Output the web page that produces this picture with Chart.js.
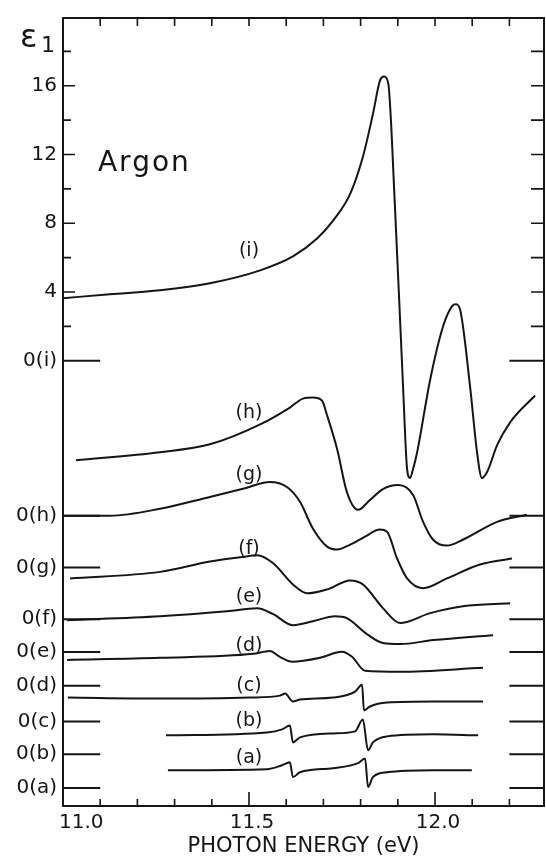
<!DOCTYPE html>
<html>
<head>
<meta charset="utf-8">
<title>Argon - epsilon 1</title>
<script src="https://cdn.jsdelivr.net/npm/chart.js@4.4.1/dist/chart.umd.min.js"></script>
<style>
    html, body { margin: 0; padding: 0; background: #fff; }
    canvas { display: block; }
</style>
</head>
<body>
<canvas id="argonChart" width="546" height="861"></canvas>
<script>
// Curve names and where each one has its zero (in units of the epsilon_1 scale of curve (i))
const curveNames = ['(i)', '(h)', '(g)', '(f)', '(e)', '(d)', '(c)', '(b)', '(a)'];
const zeroLabels = ['0(i)', '0(h)', '0(g)', '0(f)', '0(e)', '0(d)', '0(c)', '0(b)', '0(a)'];
const zeroLevels = [0, -9.02, -12.02, -15.03, -16.94, -18.90, -20.98, -22.89, -24.86];

// Tick values
const epsTicks = [2, 4, 6, 8, 10, 12, 14, 16, 18];
const epsLabelled = [16, 12, 8, 4];
const xTicks = [11.1, 11.2, 11.3, 11.4, 11.5, 11.6, 11.7, 11.8, 11.9, 12.0, 12.1, 12.2];
const xTickValues = [11.0, 11.5, 12.0];
const xTickLabels = ['11.0', '11.5', '12.0'];

// Photon energy (eV) and epsilon_1 (relative to the curve's own zero)
const energyI = [11.000, 11.126, 11.261, 11.395, 11.530, 11.618, 11.683, 11.726, 11.772, 11.806, 11.833, 11.852, 11.863, 11.874, 11.892, 11.914, 11.925, 11.933, 11.941, 11.952, 11.987, 12.022, 12.046, 12.056, 12.067, 12.094, 12.113, 12.126, 12.140, 12.167, 12.202, 12.269];
const epsI = [3.64, 3.87, 4.10, 4.51, 5.26, 6.07, 7.11, 8.15, 9.71, 11.85, 14.34, 16.30, 16.53, 16.18, 9.13, -1.45, -6.30, -6.82, -6.30, -5.32, -1.10, 2.02, 3.18, 3.29, 3.01, -1.45, -5.32, -6.82, -6.47, -4.91, -3.58, -2.02];

const energyH = [11.035, 11.261, 11.395, 11.530, 11.610, 11.645, 11.672, 11.696, 11.710, 11.737, 11.763, 11.793, 11.825, 11.860, 11.901, 11.941, 11.968, 11.995, 12.032, 12.075, 12.167, 12.247];
const epsH = [3.24, 3.70, 4.16, 5.32, 6.30, 6.82, 6.88, 6.71, 5.84, 3.87, 1.39, 0.35, 0.92, 1.56, 1.79, 1.21, -0.35, -1.39, -1.73, -1.39, -0.35, 0.06];

const energyG = [11.000, 11.126, 11.261, 11.395, 11.484, 11.556, 11.602, 11.637, 11.672, 11.710, 11.737, 11.772, 11.812, 11.852, 11.871, 11.898, 11.925, 11.968, 12.032, 12.121, 12.207];
const epsG = [3.01, 3.01, 3.41, 4.10, 4.57, 4.97, 4.68, 3.82, 2.25, 1.21, 1.04, 1.33, 1.79, 2.20, 2.08, 0.52, -0.64, -1.21, -0.64, 0.17, 0.52];

const energyF = [11.019, 11.261, 11.395, 11.484, 11.522, 11.565, 11.618, 11.656, 11.710, 11.772, 11.806, 11.860, 11.906, 11.987, 12.075, 12.202];
const epsF = [2.37, 2.75, 3.35, 3.62, 3.72, 3.25, 2.02, 1.50, 1.73, 2.25, 2.02, 0.64, -0.23, 0.35, 0.75, 0.92];

const energyE = [11.011, 11.261, 11.441, 11.522, 11.565, 11.618, 11.672, 11.731, 11.763, 11.817, 11.860, 11.906, 11.995, 12.156];
const epsE = [1.85, 2.08, 2.37, 2.54, 2.20, 1.56, 1.79, 2.08, 1.97, 1.04, 0.52, 0.46, 0.69, 0.98];

const energyD = [11.011, 11.261, 11.511, 11.556, 11.583, 11.616, 11.691, 11.750, 11.777, 11.812, 11.906, 12.129];
const epsD = [1.50, 1.62, 1.85, 2.02, 1.68, 1.39, 1.62, 1.97, 1.68, 0.87, 0.81, 1.04];

const energyC = [11.013, 11.261, 11.503, 11.583, 11.597, 11.618, 11.637, 11.726, 11.785, 11.804, 11.809, 11.825, 11.871, 11.995, 12.129];
const epsC = [1.39, 1.33, 1.39, 1.50, 1.62, 1.16, 1.27, 1.39, 1.73, 2.14, 0.64, 0.87, 1.10, 1.16, 1.16];

const energyB = [11.277, 11.548, 11.589, 11.610, 11.618, 11.637, 11.726, 11.785, 11.806, 11.820, 11.833, 11.871, 11.995, 12.116];
const epsB = [1.10, 1.27, 1.45, 1.68, 0.69, 0.98, 1.21, 1.33, 2.02, 0.23, 0.69, 1.04, 1.16, 1.10];

const energyA = [11.282, 11.548, 11.589, 11.610, 11.618, 11.637, 11.726, 11.793, 11.812, 11.820, 11.833, 11.871, 11.995, 12.099];
const epsA = [1.04, 1.10, 1.33, 1.50, 0.64, 0.92, 1.16, 1.45, 1.73, 0.06, 0.64, 0.92, 1.04, 1.04];

const energies = [energyI, energyH, energyG, energyF, energyE, energyD, energyC, energyB, energyA];
const epsValues = [epsI, epsH, epsG, epsF, epsE, epsD, epsC, epsB, epsA];

const ink = '#151515';
const fontFamily = "'DejaVu Sans', 'Liberation Sans', sans-serif";

// Build the datasets: one line per curve, shifted to its own zero
const datasets = [];
curveNames.forEach((name, k) => {
    datasets.push({
        label: name,
        data: energies[k].map((e, i) => ({ x: e, y: epsValues[k][i] + zeroLevels[k] })),
        borderColor: ink,
        borderWidth: 2,
        pointRadius: 0,
        cubicInterpolationMode: 'monotone',
        fill: false
    });
});
// Short zero marks on the left and the right frame
zeroLevels.forEach(z => {
    datasets.push({
        label: 'zero',
        data: [{ x: 11.0, y: z }, { x: 11.1, y: z }, { x: 11.6, y: null }, { x: 12.2, y: z }, { x: 12.3, y: z }],
        borderColor: ink,
        borderWidth: 2,
        pointRadius: 0,
        spanGaps: false,
        fill: false
    });
});

// Frame, inward ticks and the free text of the figure
const frameMarks = {
    id: 'frameMarks',
    afterDatasetsDraw(chart, args, opts) {
        const { ctx, chartArea: a, scales: { x, y } } = chart;
        ctx.save();
        ctx.strokeStyle = ink;
        ctx.fillStyle = ink;
        ctx.lineWidth = 2;
        ctx.strokeRect(a.left, a.top, a.right - a.left, a.bottom - a.top);

        ctx.lineWidth = 1.6;
        ctx.beginPath();
        xTicks.forEach(v => {
            const px = x.getPixelForValue(v);
            const long = xTickValues.includes(v);
            ctx.moveTo(px, a.bottom);
            ctx.lineTo(px, a.bottom - (long ? 14 : 7));
            ctx.moveTo(px, a.top);
            ctx.lineTo(px, a.top + 8);
        });
        epsTicks.forEach(v => {
            const py = y.getPixelForValue(v);
            ctx.moveTo(a.left, py);
            ctx.lineTo(a.left + (epsLabelled.includes(v) ? 12 : 8), py);
            ctx.moveTo(a.right, py);
            ctx.lineTo(a.right - 13, py);
        });
        ctx.stroke();

        // x tick labels (the first one sits just inside the left edge)
        ctx.font = '20px ' + fontFamily;
        ctx.textBaseline = 'alphabetic';
        xTickValues.forEach((v, i) => {
            const px = x.getPixelForValue(v);
            ctx.textAlign = i === 0 ? 'left' : 'center';
            ctx.fillText(xTickLabels[i], i === 0 ? px - 4 : px + 3, a.bottom + 22);
        });

        // curve labels
        ctx.font = '19px ' + fontFamily;
        ctx.textAlign = 'center';
        ctx.textBaseline = 'middle';
        curveNames.forEach((name, k) => {
            ctx.fillText(name, x.getPixelForValue(opts.labelX), y.getPixelForValue(zeroLevels[k] + opts.labelRise[k]));
        });

        // sample name
        ctx.font = '28px ' + fontFamily;
        ctx.textAlign = 'left';
        ctx.textBaseline = 'alphabetic';
        ctx.letterSpacing = '2px';
        ctx.fillText('Argon', x.getPixelForValue(opts.argonX), y.getPixelForValue(opts.argonY));
        ctx.letterSpacing = '0px';

        // epsilon_1 axis symbol
        ctx.font = '32px ' + fontFamily;
        ctx.fillText('\u03b5', 20, 47);
        ctx.font = '22px ' + fontFamily;
        ctx.fillText('1', 41, 52);
        ctx.restore();
    }
};

const yLabelFor = {};
epsLabelled.forEach(v => { yLabelFor[v] = String(v); });
zeroLevels.forEach((z, k) => { yLabelFor[z] = zeroLabels[k]; });

const ctx = document.getElementById('argonChart').getContext('2d');
const mainChart = new Chart(ctx, {
    type: 'line',
    data: { datasets: datasets },
    options: {
        responsive: false,
        animation: false,
        devicePixelRatio: 1,
        layout: { padding: { top: 13, right: 2, left: 0, bottom: 0 } },
        scales: {
            x: {
                type: 'linear',
                min: 11.0,
                max: 12.293,
                grid: { display: false, drawTicks: false },
                border: { display: false },
                ticks: { display: false },
                title: {
                    display: true,
                    text: 'PHOTON ENERGY (eV)',
                    color: ink,
                    font: { family: fontFamily, size: 21 },
                    padding: { top: 2, bottom: 2 }
                },
                afterFit: scale => { scale.height = 55; }
            },
            y: {
                type: 'linear',
                min: -25.90,
                max: 19.94,
                grid: { display: false, drawTicks: false },
                border: { display: false },
                afterBuildTicks: scale => {
                    scale.ticks = Object.keys(yLabelFor).map(v => ({ value: Number(v) }));
                },
                ticks: {
                    autoSkip: false,
                    padding: 6,
                    color: ink,
                    font: { family: fontFamily, size: 20 },
                    callback: value => yLabelFor[value]
                },
                afterFit: scale => { scale.width = 63; }
            }
        },
        plugins: {
            legend: { display: false },
            tooltip: { enabled: false },
            frameMarks: {
                labelX: 11.5,
                labelRise: [6.36, 6.0, 5.38, 4.10, 3.18, 2.31, 2.08, 1.91, 1.73],
                argonX: 11.094,
                argonY: 11.04
            }
        }
    },
    plugins: [frameMarks]
});
</script>
</body>
</html>
